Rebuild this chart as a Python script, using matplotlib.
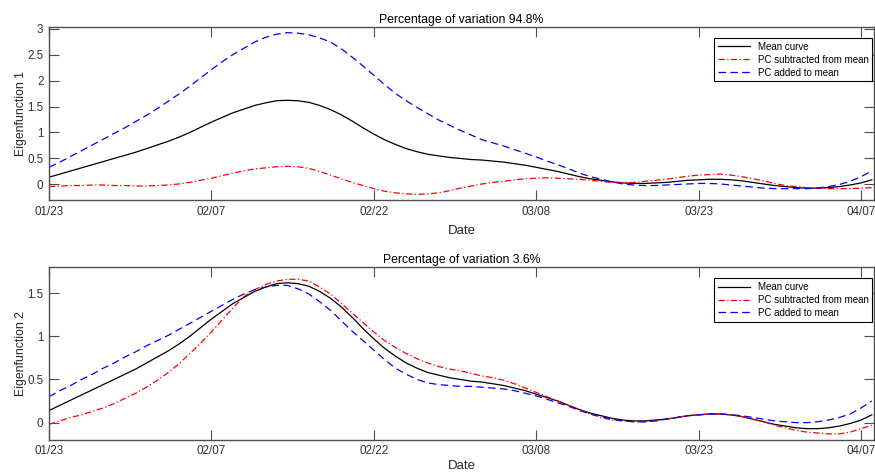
import numpy as np
import pandas as pd
import matplotlib
matplotlib.use('Agg')
import matplotlib.pyplot as plt
import matplotlib.dates as mdates

plt.rcParams['font.family'] = ['Liberation Sans', 'DejaVu Sans']

# ---------------------------------------------------------------------------
# Data (one value per day, 2020-01-23 .. 2020-04-08)
# ---------------------------------------------------------------------------
fechas = pd.date_range('2020-01-23', '2020-04-08', freq='D')

mean_curve = [0.14, 0.20, 0.26, 0.32, 0.38, 0.44, 0.50, 0.56, 0.62, 0.69,
              0.76, 0.83, 0.91, 1.00, 1.10, 1.20, 1.29, 1.38, 1.45, 1.52,
              1.57, 1.61, 1.62, 1.61, 1.58, 1.52, 1.44, 1.34, 1.22, 1.09,
              0.97, 0.86, 0.77, 0.69, 0.63, 0.58, 0.55, 0.52, 0.50, 0.48,
              0.47, 0.45, 0.43, 0.40, 0.37, 0.33, 0.29, 0.25, 0.20, 0.15,
              0.11, 0.08, 0.05, 0.03, 0.02, 0.02, 0.03, 0.04, 0.06, 0.08,
              0.09, 0.10, 0.10, 0.09, 0.07, 0.04, 0.01, -0.02, -0.04, -0.06,
              -0.07, -0.07, -0.06, -0.04, -0.01, 0.03, 0.09]

pc1_minus = [-0.04, -0.03, -0.02, -0.02, -0.01, -0.01, -0.02, -0.02, -0.03, -0.03,
             -0.02, -0.01, 0.01, 0.04, 0.08, 0.12, 0.17, 0.22, 0.26, 0.30,
             0.32, 0.34, 0.35, 0.34, 0.31, 0.25, 0.18, 0.11, 0.04, -0.02,
             -0.08, -0.13, -0.16, -0.18, -0.19, -0.18, -0.16, -0.12, -0.07, -0.03,
             0.01, 0.04, 0.06, 0.09, 0.11, 0.12, 0.13, 0.12, 0.11, 0.10,
             0.08, 0.06, 0.04, 0.04, 0.04, 0.06, 0.08, 0.10, 0.13, 0.16,
             0.18, 0.19, 0.20, 0.18, 0.15, 0.11, 0.07, 0.02, -0.02, -0.04,
             -0.06, -0.07, -0.08, -0.08, -0.08, -0.07, -0.06]

pc1_plus = [0.33, 0.43, 0.54, 0.65, 0.76, 0.87, 0.98, 1.09, 1.21, 1.33,
            1.46, 1.60, 1.74, 1.89, 2.05, 2.21, 2.36, 2.50, 2.62, 2.74,
            2.83, 2.89, 2.92, 2.91, 2.88, 2.82, 2.74, 2.61, 2.45, 2.28,
            2.10, 1.92, 1.75, 1.61, 1.48, 1.36, 1.24, 1.14, 1.04, 0.95,
            0.86, 0.80, 0.74, 0.67, 0.60, 0.53, 0.45, 0.38, 0.30, 0.22,
            0.15, 0.10, 0.05, 0.01, -0.01, -0.02, -0.02, -0.01, 0.00, 0.01,
            0.02, 0.02, 0.01, -0.01, -0.03, -0.05, -0.07, -0.08, -0.08, -0.08,
            -0.08, -0.07, -0.04, 0.00, 0.06, 0.15, 0.26]

pc2_minus = [-0.02, 0.02, 0.06, 0.09, 0.13, 0.17, 0.22, 0.28, 0.34, 0.41,
             0.49, 0.58, 0.68, 0.80, 0.92, 1.05, 1.19, 1.33, 1.46, 1.54,
             1.60, 1.64, 1.66, 1.66, 1.64, 1.57, 1.49, 1.38, 1.27, 1.16,
             1.05, 0.95, 0.87, 0.80, 0.74, 0.69, 0.65, 0.62, 0.60, 0.57,
             0.54, 0.52, 0.49, 0.45, 0.40, 0.35, 0.30, 0.25, 0.20, 0.15,
             0.10, 0.06, 0.03, 0.02, 0.01, 0.01, 0.02, 0.04, 0.06, 0.08,
             0.09, 0.10, 0.10, 0.09, 0.07, 0.04, 0.01, -0.03, -0.06, -0.09,
             -0.11, -0.12, -0.13, -0.13, -0.11, -0.07, -0.03]

pc2_plus = [0.30, 0.37, 0.43, 0.50, 0.56, 0.63, 0.69, 0.76, 0.82, 0.89,
            0.95, 1.01, 1.08, 1.15, 1.22, 1.29, 1.36, 1.43, 1.49, 1.54,
            1.57, 1.59, 1.59, 1.55, 1.49, 1.40, 1.30, 1.18, 1.06, 0.95,
            0.84, 0.73, 0.63, 0.56, 0.50, 0.46, 0.44, 0.43, 0.42, 0.42,
            0.41, 0.40, 0.39, 0.37, 0.34, 0.31, 0.27, 0.23, 0.19, 0.14,
            0.10, 0.07, 0.04, 0.02, 0.01, 0.01, 0.02, 0.04, 0.06, 0.08,
            0.09, 0.10, 0.10, 0.09, 0.08, 0.06, 0.04, 0.02, 0.01, 0.00,
            0.00, 0.01, 0.03, 0.06, 0.10, 0.17, 0.25]

titulos = ['Percentage of variation 94.8%', 'Percentage of variation 3.6%']
etiquetas_y = ['Eigenfunction 1', 'Eigenfunction 2']
limites_y = [(-0.3, 3.03), (-0.2, 1.8)]
ticks_y = [[0, 0.5, 1, 1.5, 2, 2.5, 3], [0, 0.5, 1, 1.5]]
ticks_x = pd.to_datetime(['2020-01-23', '2020-02-07', '2020-02-22',
                          '2020-03-08', '2020-03-23', '2020-04-07'])
pad_x = [5, 1.5]

# ---------------------------------------------------------------------------
fig = plt.figure(figsize=(8.75, 4.73), dpi=100)
ax1 = fig.add_axes([0.056, 0.577, 0.943, 0.366])
ax2 = fig.add_axes([0.056, 0.070, 0.943, 0.365])

series = [(pc1_minus, pc1_plus), (pc2_minus, pc2_plus)]
gris = '#4d4d4d'

for i, ax in enumerate([ax1, ax2]):
    menos, mas = series[i]
    ax.plot(fechas, mean_curve, color='black', lw=0.9, label='Mean curve')
    ax.plot(fechas, menos, color='red', lw=0.9, ls='-.', dashes=(5, 2, 1, 2),
            label='PC subtracted from mean')
    ax.plot(fechas, mas, color='blue', lw=0.9, ls='--', dashes=(6, 3.5),
            label='PC added to mean')
    ax.set_xlim(pd.Timestamp('2020-01-23'), pd.Timestamp('2020-04-08 05:00'))
    ax.set_ylim(*limites_y[i])
    ax.set_yticks(ticks_y[i])
    ax.set_yticklabels(['%g' % t for t in ticks_y[i]])
    ax.set_xticks(ticks_x)
    ax.xaxis.set_major_formatter(mdates.DateFormatter('%m/%d'))
    ax.tick_params(direction='in', length=7, width=0.8, color=gris,
                   labelsize=8.4, labelcolor='#333333', top=True, right=True,
                   pad=4)
    for sp in ax.spines.values():
        sp.set_color(gris)
        sp.set_linewidth(1.0)
    ax.set_title(titulos[i], fontsize=8.8, pad=3)
    ax.set_ylabel(etiquetas_y[i], fontsize=8.8, color='#262626', labelpad=0.5)
    ax.set_xlabel('Date', fontsize=9.5, color='#262626', labelpad=pad_x[i])
    leg = ax.legend(loc='upper right', bbox_to_anchor=(0.998, 0.937),
                    borderaxespad=0, fontsize=7, handlelength=3.3,
                    labelspacing=0.3, fancybox=False, framealpha=1,
                    edgecolor='black', borderpad=0.4, handletextpad=0.8)
    leg.get_frame().set_linewidth(0.8)

plt.savefig('out.png', dpi=100)
plt.close('all')
